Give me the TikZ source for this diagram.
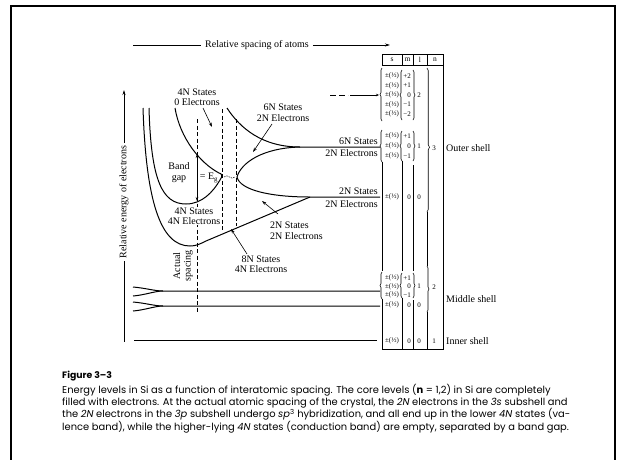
\documentclass[tikz,border=0pt]{standalone}
\usepackage{fontspec}
\setmainfont{Liberation Serif}
\newfontfamily\capfont{Poppins}
\usetikzlibrary{arrows.meta,decorations.pathreplacing}
\begin{document}
\begin{tikzpicture}[x=1pt,y=-1pt,
  curve/.style={line width=1pt},
  lbl/.style={font=\fontsize{10}{10.5}\selectfont, inner sep=0pt, align=center},
  tbl/.style={font=\fontsize{7}{7}\selectfont, inner sep=0pt},
  hdr/.style={font=\fontsize{7.5}{7.5}\selectfont, inner sep=0pt},
  dsh/.style={line width=0.7pt, dash pattern=on 4pt off 2.5pt},
  ptr/.style={line width=0.6pt, -{Stealth[length=4.5pt,width=3pt]}},
  lb/.style={decorate, decoration={brace, amplitude=2pt}, line width=0.6pt},
  tl/.style={line width=0.7pt},
]
\useasboundingbox (0,0) rectangle (623,459);
% frame
\draw[line width=2.5pt] (11,462) -- (11,6) -- (615,6) -- (615,462);

% top axis
\node[lbl, inner sep=4pt] (rsa) at (257,45) {Relative spacing of atoms};
\coordinate (rsaL) at (133,45);
\coordinate (rsaR) at (390,45);
\draw[tl] (rsaL) -- (rsa);
\draw[tl, -{Stealth[length=5pt,width=3pt]}] (rsa) -- (rsaR);

% vertical axis
\node[lbl, rotate=90, inner sep=3pt] (rea) at (124,202) {Relative energy of electrons};
\coordinate (axT) at (124,90);
\coordinate (axB) at (124,342);
\draw[tl, -{Stealth[length=5pt,width=3pt]}] (rea) -- (axT);
\draw[tl] (rea) -- (axB);

% band curves
\draw[curve] (143,108) .. controls (146,200) and (160,246) .. (190,246)
  .. controls (196,246) and (200,244) .. (206,241) -- (310,197) -- (380,197);
\draw[curve] (149,108) .. controls (151,180) and (162,204) .. (186,204)
  .. controls (202,204) and (213,192) .. (220,180)
  .. controls (223,176) and (222,173.5) .. (219,173)
  .. controls (200,163) and (180,138) .. (175,108);
\draw[curve] (227,108) .. controls (240,128) and (262,147) .. (300,147) -- (380,147);
\draw[curve] (237,177) .. controls (241,163) and (262,148) .. (300,147);
\draw[curve] (237,177) .. controls (240,190) and (270,197) .. (310,197);
\draw[line width=0.5pt, dash pattern=on 1.5pt off 1pt] (224,177) .. controls (228,173) and (231,181) .. (235,177);

% dashed verticals
\draw[dsh] (197,119) -- (197,313);
\draw[dsh] (222,109) -- (222,230);
\draw[dsh] (236,119) -- (236,226);

% 3d level
\draw[line width=0.7pt, dash pattern=on 6pt off 3pt] (330,95) -- (348,95);
\draw[line width=0.7pt, -{Stealth[length=3pt,width=2.5pt]}] (350,95) -- (379,95);

% middle and inner shells
\draw[curve] (133,287) .. controls (145,288) and (155,291) .. (163,291) -- (380,291);
\draw[curve] (133,296) .. controls (145,295) and (155,291) .. (163,291);
\draw[curve] (133,302) .. controls (145,303) and (155,306) .. (163,306) -- (380,306);
\draw[curve] (133,311) .. controls (145,310) and (155,306) .. (163,306);
\draw[curve] (134,340) -- (377,340);

% labels
\node[lbl] (l4n0) at (197,97) {4N States\\0 Electrons};
\coordinate (a4s) at (203,108); \coordinate (a4e) at (212,127);
\draw[ptr] (a4s) -- (a4e);
\node[lbl] (l6n) at (283,112.5) {6N States\\2N Electrons};
\coordinate (a6s) at (272,124); \coordinate (a6e) at (253,152);
\draw[ptr] (a6s) -- (a6e);
\node[lbl, anchor=south east] (r6s) at (378,145) {6N States};
\node[lbl, anchor=north east] (r6e) at (378,149) {2N Electrons};
\node[lbl, anchor=south east] (r2s) at (378,195) {2N States};
\node[lbl, anchor=north east] (r2e) at (378,200) {2N Electrons};
\node[lbl] (bg) at (179,172.5) {Band\\gap};
\node[lbl] (eg) at (209,178) {= E\textsubscript{g}};
\coordinate (bgT) at (197,154); \coordinate (bgB) at (197,201);
\draw[line width=0.6pt, {Stealth[length=4pt,width=2.5pt]}-{Stealth[length=4pt,width=2.5pt]}] (bgT) -- (bgB);
\node[lbl, fill=white, inner sep=0.5pt] (l4n4) at (194,216) {4N States\\4N Electrons};
\node[lbl, anchor=west, align=left] (l2n) at (270,230.5) {2N States\\2N Electrons};
\coordinate (a2s) at (278,214); \coordinate (a2e) at (262,201);
\draw[ptr] (a2s) -- (a2e);
\node[lbl] (l8n) at (261,264) {8N States\\4N Electrons};
\coordinate (a8s) at (247,254); \coordinate (a8e) at (231,229);
\draw[ptr] (a8s) -- (a8e);
\node[lbl, rotate=90] (act) at (183,266) {Actual\\spacing};

% table header
\draw[tl] (382,54) rectangle (443,65);
\draw[tl] (402,54) -- (402,65);
\draw[tl] (413,54) -- (413,65);
\draw[tl] (427,54) -- (427,65);
\node[hdr] (hs) at (392,59.5) {s};
\node[hdr] (hm) at (407.5,59.5) {m};
\node[hdr] (hl) at (420,59.5) {l};
\node[hdr] (hn) at (435,59.5) {n};
\draw[tl] (443,65) -- (443,349) -- (382,349);

% column x=382
\draw[lb] (382,121) -- (382,68);
\draw[lb] (382,162) -- (382,130);
\draw[tl] (382,162) -- (382,271);
\draw[lb] (382,299) -- (382,272);
\draw[tl] (382,299) -- (382,349);
% column x=402
\draw[lb] (402,120) -- (402,70);
\draw[lb] (402,161) -- (402,131);
\draw[tl] (402,161) -- (402,271);
\draw[lb] (402,298) -- (402,273);
\draw[tl] (402,298) -- (402,349);
% column x=413
\draw[lb] (413,70) -- (413,120);
\draw[lb] (413,131) -- (413,161);
\draw[tl] (413,165) -- (413,271);
\draw[lb] (413,273) -- (413,298);
\draw[tl] (413,300) -- (413,349);
% column x=427
\draw[decorate, decoration={brace, amplitude=2.5pt, aspect=0.55}, line width=0.6pt] (427,68) -- (427,212);
\draw[tl] (427,212) -- (427,266);
\draw[lb] (427,266) -- (427,312);
\draw[tl] (427,312) -- (427,349);

% table entries
\foreach \y [count=\i] in {76,85.5,95,104.5,114,136,146,156,197,278,286.5,295,305,341}
  \node[tbl] (s\i) at (392,\y) {±(½)};
\foreach \y/\v [count=\i] in {76/+2,85.5/+1,95/0,104.5/−1,114/−2,136/+1,146/0,156/−1,197/0,278/+1,286.5/0,295/−1,305/0,341/0}
  \node[tbl, anchor=east] (m\i) at (411,\y) {\v};
\foreach \y/\v [count=\i] in {95/2,146/1,197/0,286.5/1,305/0,341/0}
  \node[tbl] (lv\i) at (419,\y) {\v};
\foreach \y/\v [count=\i] in {148/3,287/2,341/1}
  \node[tbl] (nv\i) at (434,\y) {\v};

% shell labels
\node[lbl, anchor=west] (outer) at (446,148) {Outer shell};
\node[lbl, anchor=west] (middle) at (446,299) {Middle shell};
\node[lbl, anchor=west] (inner) at (446,341) {Inner shell};

% caption
\node[anchor=west, inner sep=0pt, font=\capfont\bfseries\fontsize{9.3}{11}\selectfont] (figno) at (62,376) {Figure 3–3};
\node[anchor=north west, inner sep=0pt, align=left, font=\capfont\fontsize{9.9}{12.2}\selectfont] (cap) at (62,384)
{Energy levels in Si as a function of interatomic spacing. The core levels (\textbf{n} = 1,2) in Si are completely\\
filled with electrons. At the actual atomic spacing of the crystal, the \textit{2N} electrons in the \textit{3s} subshell and\\
the \textit{2N} electrons in the \textit{3p} subshell undergo \textit{sp}\textsuperscript{3} hybridization, and all end up in the lower \textit{4N} states (va-\\
lence band), while the higher-lying \textit{4N} states (conduction band) are empty, separated by a band gap.};
\end{tikzpicture}
\end{document}
